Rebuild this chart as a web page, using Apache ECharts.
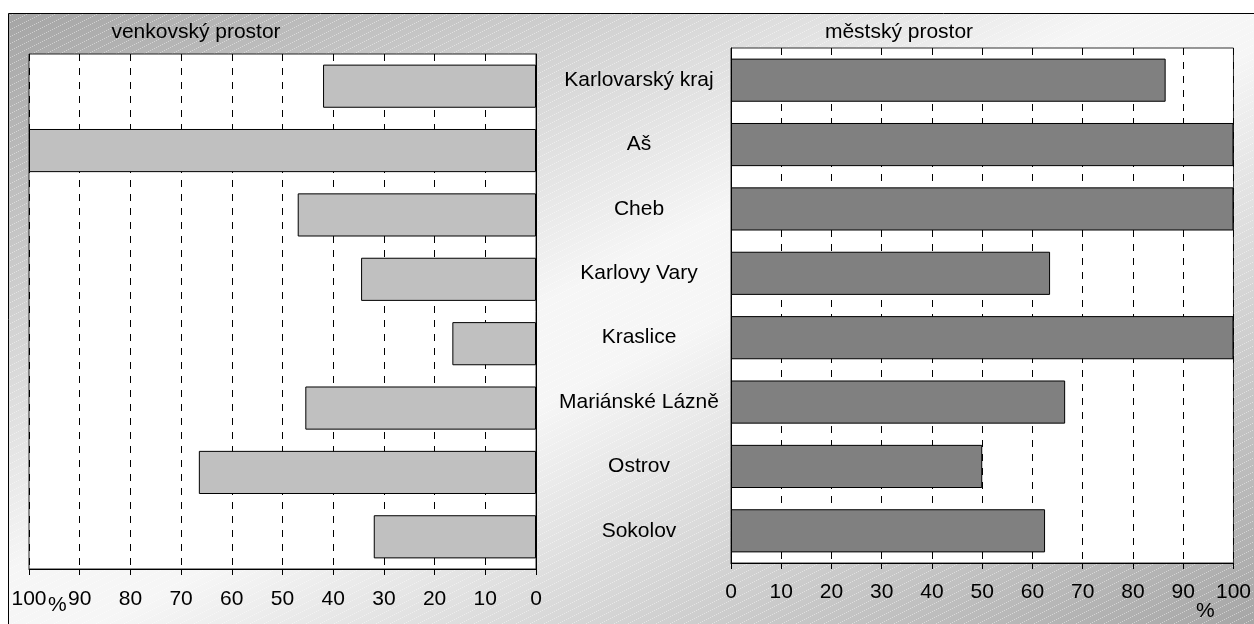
<!DOCTYPE html>
<html>
<head>
<meta charset="utf-8">
<script src="https://cdn.jsdelivr.net/npm/echarts@6/dist/echarts.min.js"></script>
<style>
html,body{margin:0;padding:0;background:#fff;}
#chart{width:1254px;height:624px;}
</style>
</head>
<body>
<div id="chart"></div>
<script>
const categories = ['Karlovarský kraj','Aš','Cheb','Karlovy Vary','Kraslice','Mariánské Lázně','Ostrov','Sokolov'];
const ruralValues = [42, 100, 47, 34.5, 16.5, 45.5, 66.5, 32];
const urbanValues = [86.5, 100, 100, 63.5, 100, 66.5, 50, 62.5];
const ruralTitle = 'venkovský prostor';
const urbanTitle = 'městský prostor';
const unitLabel = '%';

const FONT = "'Liberation Sans', Arial, sans-serif";
const FS = 21;

// hatch pattern
const pc = document.createElement('canvas');
pc.width = 14; pc.height = 7;
const pctx = pc.getContext('2d');
pctx.fillStyle = 'rgba(255,255,255,0.45)';
for (let i = 0; i < 14; i += 2) {
  pctx.fillRect(i, Math.max(0, Math.floor(7 - i / 2) - 1), 1, 1);
}

const chart = echarts.init(document.getElementById('chart'), null, {renderer: 'canvas'});

const axisText = {color: '#000', fontSize: FS, fontFamily: FONT};
const dashed = {show: true, lineStyle: {color: '#000', width: 1, type: [7, 7]}};

const option = {
  backgroundColor: '#fff',
  animation: false,
  graphic: {
    elements: [
      {
        type: 'rect', z: -10, silent: true,
        shape: {x: 8.5, y: 13.5, width: 1260, height: 620},
        style: {
          fill: {type: 'linear', x: 0, y: 0, x2: 498, y2: 1000, global: true,
            colorStops: [
              {offset: 0, color: '#a2a2a2'},
              {offset: 0.46, color: '#f6f6f6'},
              {offset: 0.54, color: '#f6f6f6'},
              {offset: 1, color: '#a6a6a6'}
            ]},
          stroke: '#000', lineWidth: 1
        }
      },
      {
        type: 'rect', z: -9, silent: true,
        shape: {x: 9, y: 14, width: 1260, height: 620},
        style: {fill: {image: pc, repeat: 'repeat'}}
      },
      {
        type: 'text', z: 10, left: 48, top: 595,
        style: {text: unitLabel, fontSize: FS, fontFamily: FONT, fill: '#000'}
      },
      {
        type: 'text', z: 10, left: 1196, top: 601,
        style: {text: unitLabel, fontSize: FS, fontFamily: FONT, fill: '#000'}
      }
    ]
  },
  title: [
    {text: ruralTitle, left: 191, top: 17, textAlign: 'center',
     textStyle: {fontSize: FS, fontWeight: 'normal', color: '#000', fontFamily: FONT}},
    {text: urbanTitle, left: 894, top: 17, textAlign: 'center',
     textStyle: {fontSize: FS, fontWeight: 'normal', color: '#000', fontFamily: FONT}}
  ],
  grid: [
    {left: 29, top: 54, width: 507, height: 515, show: true, backgroundColor: '#fff',
     borderColor: '#222', borderWidth: 1},
    {left: 731, top: 48, width: 506, height: 515, show: true, backgroundColor: '#fff',
     borderColor: '#333', borderWidth: 1}
  ],
  xAxis: [
    {gridIndex: 0, type: 'value', min: 0, max: 100, interval: 10, inverse: true,
     axisLine: {show: true, lineStyle: {color: '#000'}},
     axisTick: {show: true, length: 6, lineStyle: {color: '#000'}},
     axisLabel: Object.assign({margin: 20, showMinLabel: true, showMaxLabel: true}, axisText),
     splitLine: dashed},
    {gridIndex: 1, type: 'value', min: 0, max: 100, interval: 10,
     axisLine: {show: true, lineStyle: {color: '#000'}},
     axisTick: {show: true, length: 6, lineStyle: {color: '#000'}},
     axisLabel: Object.assign({margin: 19, showMinLabel: true, showMaxLabel: true}, axisText),
     splitLine: dashed}
  ],
  yAxis: [
    {gridIndex: 0, type: 'category', data: categories, inverse: true, position: 'right',
     axisLine: {show: true, onZero: false, lineStyle: {color: '#000'}},
     axisTick: {show: false}, axisLabel: {show: false}, splitLine: {show: false}},
    {gridIndex: 1, type: 'category', data: categories, inverse: true, position: 'left',
     axisLine: {show: true, onZero: false, lineStyle: {color: '#000'}},
     axisTick: {show: false},
     axisLabel: Object.assign({margin: 92, align: 'center'}, axisText),
     splitLine: {show: false}}
  ],
  series: [
    {type: 'bar', xAxisIndex: 0, yAxisIndex: 0, data: ruralValues, barCategoryGap: '33%',
     itemStyle: {color: '#c0c0c0', borderColor: '#000', borderWidth: 1}},
    {type: 'bar', xAxisIndex: 1, yAxisIndex: 1, data: urbanValues, barCategoryGap: '33%',
     itemStyle: {color: '#808080', borderColor: '#000', borderWidth: 1}}
  ]
};
chart.setOption(option);
</script>
</body>
</html>
